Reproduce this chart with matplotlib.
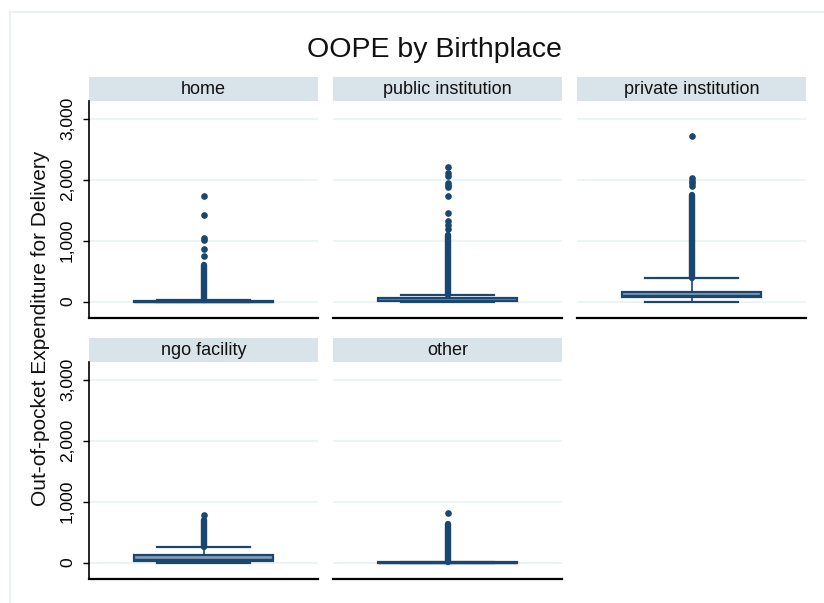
import matplotlib
matplotlib.use('Agg')
import matplotlib.pyplot as plt
from matplotlib.lines import Line2D

# OOPE (out-of-pocket expenditure for delivery) by birthplace
places = ["home", "public institution", "private institution", "ngo facility", "other"]
q1 = [0, 5, 77, 20, 0]
med = [0, 20, 110, 60, 0]
q3 = [5, 60, 158, 130, 5]
whislo = [0, 0, 0, 0, 0]
whishi = [20, 115, 386, 257, 10]
# contiguous bands of outside values
dense_lo = [30, 115, 386, 257, 5]
dense_hi = [603, 1093, 1745, 690, 640]
# separate outside values above the bands
outliers = [
    [750, 865, 1011, 1038, 1424, 1734],
    [1186, 1256, 1326, 1457, 1735, 1880, 1910, 1940, 2055, 2110, 2207],
    [1900, 1944, 1980, 2034, 2708],
    [787],
    [808],
]
yticks = [0, 1000, 2000, 3000]
yticklabels = ["0", "1,000", "2,000", "3,000"]

NAVY = "#1a476f"
BOXFILL = "#849cb5"
STRIP = "#d8e3ea"
GRID = "#eaf2f3"
W, H = 824, 603

plt.rcParams['font.family'] = ['Liberation Sans', 'DejaVu Sans']


def frac(x0, y0, x1, y1):
    # pixel box (top-left origin) -> figure fraction rect
    return [x0 / W, 1 - y1 / H, (x1 - x0) / W, (y1 - y0) / H]


fig = plt.figure(figsize=(W / 100, H / 100), dpi=100)
fig.patch.set_facecolor("white")

# graph region border
fig.add_artist(Line2D([10 / W, 1], [1 - 12 / H, 1 - 12 / H], color=GRID, lw=1.5))
fig.add_artist(Line2D([10 / W, 10 / W], [1 - 12 / H, 0], color=GRID, lw=1.5))

cols = [(89, 318), (333, 562), (577, 806)]
rows = [(77, 101, 318), (338, 362, 579)]

for i, name in enumerate(places):
    r, c = divmod(i, 3)
    x0, x1 = cols[c]
    s0, p0, p1 = rows[r]

    sax = fig.add_axes(frac(x0, s0, x1, p0))
    sax.set_facecolor(STRIP)
    sax.set_xticks([])
    sax.set_yticks([])
    for sp in sax.spines.values():
        sp.set_visible(False)
    sax.text(0.5, 0.5, name, ha="center", va="center", fontsize=13,
             color="#111111", transform=sax.transAxes)

    ax = fig.add_axes(frac(x0, p0, x1, p1))
    ax.set_xlim(0.5, 1.5)
    ax.set_ylim(-270, 3290)
    ax.set_yticks(yticks)
    for y in yticks:
        ax.axhline(y, color=GRID, lw=1.2, zorder=0)

    stats = [dict(q1=q1[i], med=med[i], q3=q3[i], whislo=whislo[i],
                  whishi=whishi[i], fliers=[])]
    ax.bxp(stats, positions=[1], widths=0.607, patch_artist=True,
           showfliers=False,
           boxprops=dict(facecolor=BOXFILL, edgecolor=NAVY, linewidth=1.6),
           medianprops=dict(color=NAVY, linewidth=1.0),
           whiskerprops=dict(color=NAVY, linewidth=1.2),
           capprops=dict(color=NAVY, linewidth=1.6),
           capwidths=0.41, manage_ticks=False)
    ax.vlines(1, dense_lo[i], dense_hi[i], color=NAVY, lw=4.6,
              capstyle="round", zorder=3)
    ax.plot([1] * len(outliers[i]), outliers[i], "o", color=NAVY,
            markersize=4.8, markeredgewidth=0, zorder=3)

    ax.set_xticks([])
    ax.spines["top"].set_visible(False)
    ax.spines["right"].set_visible(False)
    ax.spines["bottom"].set_linewidth(1.6)
    ax.spines["bottom"].set_color("black")
    if c == 0:
        ax.spines["left"].set_linewidth(1.2)
        ax.set_yticklabels(yticklabels, rotation=90, va="center", fontsize=12.5)
        ax.tick_params(axis="y", length=4, width=1, pad=6, colors="black")
    else:
        ax.spines["left"].set_visible(False)
        ax.tick_params(axis="y", left=False, labelleft=False)

fig.text(434 / W, 1 - 50 / H, "OOPE by Birthplace", ha="center", va="center",
         fontsize=20.5, color="#111111")
fig.text(41 / W, 1 - 328 / H, "Out-of-pocket Expenditure for Delivery",
         rotation=90, ha="center", va="center", fontsize=15, color="#111111")

fig.savefig("out.png", dpi=100)
